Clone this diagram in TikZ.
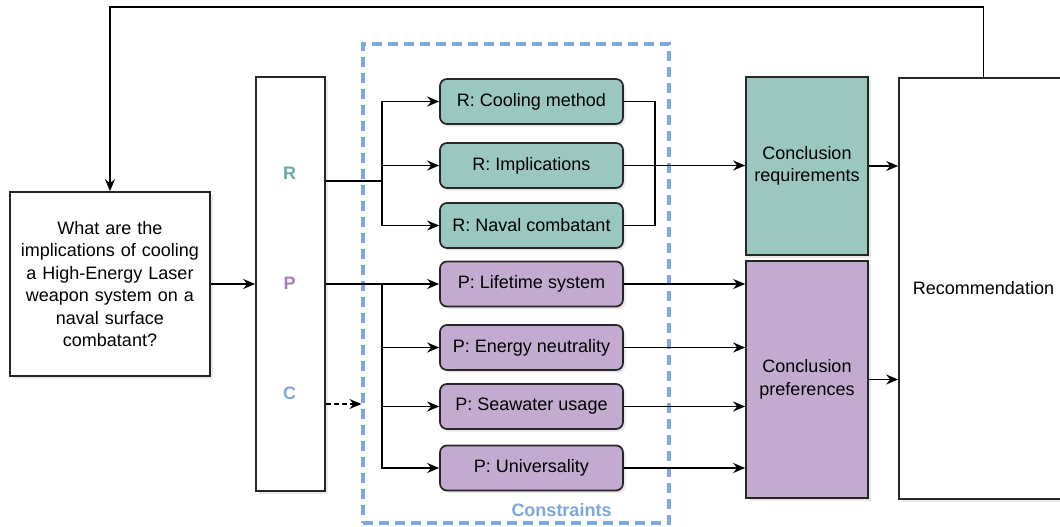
\documentclass[tikz,border=0pt]{standalone}
\usepackage{fontspec}
\setmainfont{Liberation Sans}
\usetikzlibrary{arrows.meta,shadows}
\definecolor{tealfill}{HTML}{9AC7BF}
\definecolor{purpfill}{HTML}{C3ABD0}
\definecolor{rcol}{HTML}{67AB9F}
\definecolor{pcol}{HTML}{A680B8}
\definecolor{ccol}{HTML}{7EA6E0}
\tikzset{
  base/.style={draw=black!85, line width=1.7pt, inner sep=0pt, align=center,
    font=\fontsize{18}{22.5}\selectfont,
    drop shadow={opacity=0.18, shadow xshift=2.5pt, shadow yshift=-2.5pt}},
  plainbox/.style={base, fill=white},
  rbox/.style={base, fill=tealfill, rounded corners=7pt, minimum width=183pt, minimum height=45pt},
  pbox/.style={base, fill=purpfill, rounded corners=7pt, minimum width=183pt, minimum height=45pt},
  letter/.style={font=\fontsize{18}{22}\selectfont\bfseries, inner sep=0pt},
  arr/.style={draw=black, line width=1.7pt, -{Stealth[length=12pt,width=10pt,inset=4pt]}},
  link/.style={draw=black, line width=1.7pt},
}
\begin{document}
\begin{tikzpicture}[x=1pt,y=-1pt]
\clip (0,0) rectangle (1060,527);
\fill[white] (0,0) rectangle (1060,527);
% constraints frame
\node[draw=ccol, line width=3.2pt, dash pattern=on 10pt off 6pt, minimum width=306pt, minimum height=479pt, inner sep=0pt] (cons) at (516,283.5) {};
\node[font=\fontsize{18}{22}\selectfont\bfseries, text=ccol, inner sep=0pt] (clab) at (561.5,510.5) {Constraints};
% question
\node[plainbox, minimum width=200pt, minimum height=184pt, text width=192pt] (q) at (110,284)
  {What are the\\implications of cooling\\a High-Energy Laser\\weapon system on a\\naval surface\\combatant?};
% RPC box
\node[plainbox, minimum width=69pt, minimum height=414pt] (rpc) at (290.5,284) {};
\node[letter, text=rcol] (lr) at (289.5,173.5) {R};
\node[letter, text=pcol] (lp) at (289.5,283.5) {P};
\node[letter, text=ccol] (lc) at (289.5,393.5) {C};
% requirement boxes
\node[rbox] (cool) at (531.5,101.5) {R: Cooling method};
\node[rbox] (impl) at (531.5,165.5) {R: Implications};
\node[rbox] (nav) at (531.5,225.5) {R: Naval combatant};
% preference boxes
\node[pbox] (life) at (531.5,284) {P: Lifetime system};
\node[pbox] (ener) at (531.5,347.5) {P: Energy neutrality};
\node[pbox] (sea) at (531.5,406.5) {P: Seawater usage};
\node[pbox] (univ) at (531.5,468) {P: Universality};
% conclusions
\node[plainbox, fill=tealfill, minimum width=122pt, minimum height=178pt] (creq) at (807,166) {Conclusion\\requirements};
\node[plainbox, fill=purpfill, minimum width=122pt, minimum height=237pt] (cpref) at (807,379.5) {Conclusion\\preferences};
% recommendation
\node[plainbox, minimum width=169pt, minimum height=421pt] (rec) at (983.5,288.5) {Recommendation};
% coordinates
\coordinate (rb) at (382,181);
\coordinate (pb) at (382,284);
\coordinate (cy) at (0,404);
% connectors
\draw[arr] (q.east) -- (rpc.west |- q.east);
\draw[link] (rpc.east |- rb) -- (rb);
\draw[arr] (rb) |- (cool.west);
\draw[arr] (rb) |- (impl.west);
\draw[arr] (rb) |- (nav.west);
\draw[arr] (rpc.east |- life.west) -- (life.west);
\draw[arr] (pb) |- (ener.west);
\draw[arr] (pb) |- (sea.west);
\draw[arr] (pb) |- (univ.west);
\draw[arr, dash pattern=on 5pt off 3pt, line width=1.5pt] (rpc.east |- cy) -- (cons.west |- cy);
\draw[link] (cool.east) -- ++(31,0) |- (nav.east);
\draw[arr] (impl.east) -- (creq.west |- impl.east);
\draw[arr] (life.east) -- (cpref.west |- life.east);
\draw[arr] (ener.east) -- (cpref.west |- ener.east);
\draw[arr] (sea.east) -- (cpref.west |- sea.east);
\draw[arr] (univ.east) -- (cpref.west |- univ.east);
\draw[arr] (creq.east) -- (rec.west |- creq.east);
\draw[arr] (cpref.east) -- (rec.west |- cpref.east);
\draw[arr] (rec.north) -- ++(0,-70) -| (q.north);
\end{tikzpicture}
\end{document}
